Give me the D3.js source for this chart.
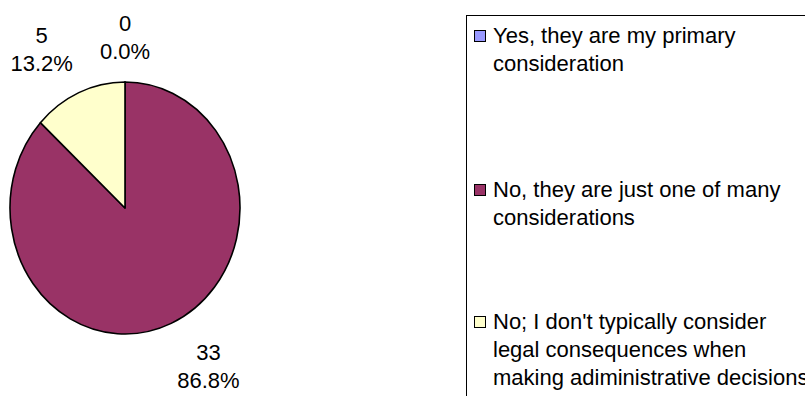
<!DOCTYPE html>
<html>
<head>
<meta charset="utf-8">
<script src="https://cdn.jsdelivr.net/npm/d3@7"></script>
<style>
  body { margin: 0; background: #fff; }
  svg { display: block; }
  text { font-family: Arial, "Liberation Sans", sans-serif; fill: #000; }
</style>
</head>
<body>
<svg id="chart" width="805" height="396"></svg>
<script>
// Survey answers, counts and slice colours
const categories = [
  "Yes, they are my primary consideration",
  "No, they are just one of many considerations",
  "No; I don't typically consider legal consequences when making adiministrative decisions"
];
const counts = [0, 33, 5];
const colors = ["#9999FF", "#993366", "#FFFFCC"];

const W = 805, H = 396;
const svg = d3.select("#chart");

// Pie geometry (slightly taller than wide)
const cx = 125, cy = 208, rx = 115, ry = 126;
const fontSize = 22, lineH = 28;

const total = d3.sum(counts);
const pct = d3.format(".1%");

const pie = d3.pie().sort(null).value(d => d)
  .startAngle(0).endAngle(2 * Math.PI);
const arcs = pie(counts);
const arc = d3.arc().innerRadius(0).outerRadius(rx);

const pieG = svg.append("g")
  .attr("transform", `translate(${cx},${cy}) scale(1,${ry / rx})`);

pieG.selectAll("path.slice")
  .data(arcs)
  .join("path")
  .attr("class", "slice")
  .attr("d", arc)
  .attr("fill", (d, i) => colors[i])
  .attr("stroke", "#000")
  .attr("stroke-width", 1.6)
  .attr("stroke-linejoin", "round")
  .attr("vector-effect", "non-scaling-stroke");

// Data labels: count over percentage, placed just outside each slice
const labelG = svg.append("g");
arcs.forEach((d, i) => {
  const mid = (d.startAngle + d.endAngle) / 2;
  const s = Math.sin(mid), c = Math.cos(mid);
  const f = 1.13;
  const px = cx + f * rx * s;
  const py = cy - f * ry * c;
  const lines = [String(counts[i]), pct(counts[i] / total)];
  const t = labelG.append("text")
    .attr("text-anchor", "middle")
    .attr("font-size", fontSize);
  lines.forEach((ln, k) => {
    t.append("tspan").attr("x", 0).attr("y", k * lineH + 0.35 * fontSize).text(ln);
  });
  const bw = t.node().getBBox().width;
  const bh = lineH * 2;
  const ox = px + Math.sign(Math.round(s * 1e6)) * bw / 2;
  const oy = py - Math.sign(Math.round(c * 1e6)) * bh / 2;
  t.attr("transform", `translate(${ox},${oy - lineH / 2})`);
});

// Legend
const legX = 466, legY = 15;
svg.append("rect")
  .attr("x", legX + 0.5).attr("y", legY + 0.5)
  .attr("width", W).attr("height", H)
  .attr("fill", "#fff").attr("stroke", "#000").attr("stroke-width", 1);

function wrap(str, maxW, size) {
  const probe = svg.append("text").attr("font-size", size);
  const words = str.split(" ");
  const out = [];
  let cur = "";
  words.forEach(w => {
    const tryStr = cur ? cur + " " + w : w;
    probe.text(tryStr);
    if (cur && probe.node().getComputedTextLength() > maxW) {
      out.push(cur);
      cur = w;
    } else {
      cur = tryStr;
    }
  });
  if (cur) out.push(cur);
  probe.remove();
  return out;
}

const itemBaselines = [43, 197, 329];
const legend = svg.append("g");
categories.forEach((name, i) => {
  const g = legend.append("g").attr("transform", `translate(${legX},${itemBaselines[i]})`);
  g.append("rect")
    .attr("x", 8.5).attr("y", -12.5)
    .attr("width", 11).attr("height", 11)
    .attr("fill", colors[i]).attr("stroke", "#000").attr("stroke-width", 1);
  const lines = wrap(name, 322, fontSize);
  const t = g.append("text").attr("font-size", fontSize);
  lines.forEach((ln, k) => {
    t.append("tspan").attr("x", 27).attr("y", k * lineH).text(ln);
  });
});
</script>
</body>
</html>
